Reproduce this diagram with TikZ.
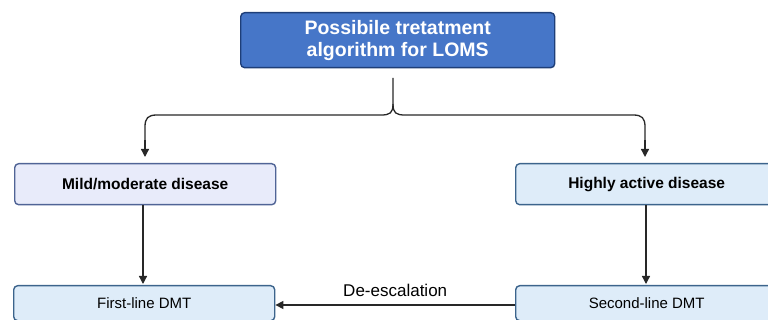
\documentclass[tikz,border=0pt]{standalone}
\usepackage{fontspec}
\setmainfont{Liberation Sans}
\usetikzlibrary{arrows.meta}
\definecolor{topfill}{RGB}{70,118,200}
\definecolor{topline}{RGB}{30,62,120}
\definecolor{mildfill}{RGB}{232,235,250}
\definecolor{mildline}{RGB}{80,100,150}
\definecolor{bluefill}{RGB}{222,236,249}
\definecolor{blueline}{RGB}{60,100,140}
\definecolor{arr}{RGB}{40,40,40}
\tikzset{
  box/.style={draw, line width=1.4pt, rounded corners=4pt, anchor=north west, inner sep=0pt},
  conn/.style={draw=arr, line width=1.3pt, -{Triangle[length=8pt,width=8pt]}},
}
\begin{document}
\begin{tikzpicture}[x=1pt,y=-1pt]
\useasboundingbox (0,0) rectangle (768,320);
\clip (0,0) rectangle (768,320);
% top box
\node[box, draw=topline, fill=topfill, minimum width=314pt, minimum height=55pt, text=white, font=\bfseries\fontsize{19.5}{22}\selectfont, align=center] (top) at (240,12) {Possibile tretatment\\algorithm for LOMS};
\node[box, draw=mildline, fill=mildfill, minimum width=261pt, minimum height=41pt, font=\bfseries\fontsize{15.5}{18}\selectfont] (mild) at (14,163) {Mild/moderate disease};
\node[box, draw=blueline, fill=bluefill, minimum width=262pt, minimum height=41pt, font=\bfseries\fontsize{15.5}{18}\selectfont] (high) at (515,163) {Highly active disease};
\node[box, draw=blueline, fill=bluefill, minimum width=261pt, minimum height=35pt, font=\fontsize{15}{18}\selectfont] (first) at (13,285) {First-line DMT};
\node[box, draw=blueline, fill=bluefill, minimum width=262pt, minimum height=35pt, font=\fontsize{15}{18}\selectfont] (second) at (515,285) {Second-line DMT};
% brace
\coordinate (bt) at (393,78);
\draw[draw=arr, line width=1.3pt] (bt) -- (393,104) .. controls (393,113) and (390,115) .. (381,115) -- (157,115) .. controls (148,115) and (145,118) .. (145,127) -- (145,150);
\draw[draw=arr, line width=1.3pt] (393,104) .. controls (393,113) and (396,115) .. (405,115) -- (633,115) .. controls (642,115) and (645,118) .. (645,127) -- (645,150);
\draw[conn] (145,140) -- (145,157);
\draw[conn] (645,140) -- (645,157);
% verticals
\draw[conn] (mild.south -| 143,0) -- (143,284);
\draw[conn] (high.south -| 646,0) -- (646,284);
% de-escalation
\draw[conn] (second.west |- 0,305) -- (first.east |- 0,305) node[midway, above=4pt, font=\fontsize{17}{20}\selectfont, text=black] {De-escalation};
\end{tikzpicture}
\end{document}
